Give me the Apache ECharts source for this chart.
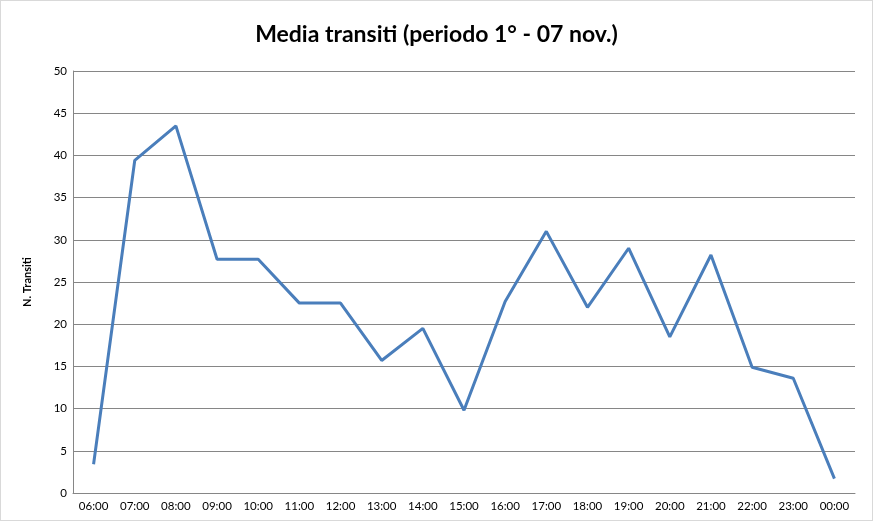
<!DOCTYPE html>
<html><head><meta charset="utf-8">
<script src="https://cdn.jsdelivr.net/npm/echarts@6/dist/echarts.min.js"></script>
<style>
html,body{margin:0;padding:0;background:#fff;}
#wrap{position:absolute;left:0;top:0;width:871px;height:519px;border:1px solid #d9d9d9;}
#c{width:871px;height:519px;}
</style></head><body>
<div id="wrap"><div id="c"></div></div>
<script>
const titleText = "Media transiti (periodo 1° - 07 nov.)";
const yAxisName = "N. Transiti";
const categories = ["06:00","07:00","08:00","09:00","10:00","11:00","12:00","13:00","14:00","15:00","16:00","17:00","18:00","19:00","20:00","21:00","22:00","23:00","00:00"];
const values = [3.4,39.4,43.5,27.7,27.7,22.5,22.5,15.7,19.5,9.8,22.7,31.0,22.0,29.0,18.5,28.2,14.9,13.6,1.7];

const chart = echarts.init(document.getElementById('c'));
const font = "Lato, 'Open Sans', sans-serif";
chart.setOption({
  animation:false,
  title:{text:titleText,left:'center',top:17,textStyle:{fontFamily:font,fontSize:23,fontWeight:'bold',color:'#000'}},
  grid:{left:72,right:17,top:70,bottom:27},
  xAxis:{type:'category',data:categories,boundaryGap:true,
    axisLine:{lineStyle:{color:'#868686',width:1}},axisTick:{show:false},
    axisLabel:{fontFamily:font,fontSize:11.5,color:'#000',margin:7}},
  yAxis:{type:'value',min:0,max:50,interval:5,name:yAxisName,nameLocation:'middle',nameGap:40,nameRotate:90,
    nameTextStyle:{fontFamily:font,fontSize:11,fontWeight:'bold',color:'#000'},
    axisLine:{show:true,lineStyle:{color:'#868686',width:1}},axisTick:{show:false},
    axisLabel:{fontFamily:font,fontSize:11.5,color:'#000',margin:6},
    splitLine:{lineStyle:{color:'#868686',width:1}}},
  series:[{type:'line',data:values,symbol:'none',lineStyle:{color:'#4a7ebb',width:3},itemStyle:{color:'#4a7ebb'}}]
});
</script></body></html>
